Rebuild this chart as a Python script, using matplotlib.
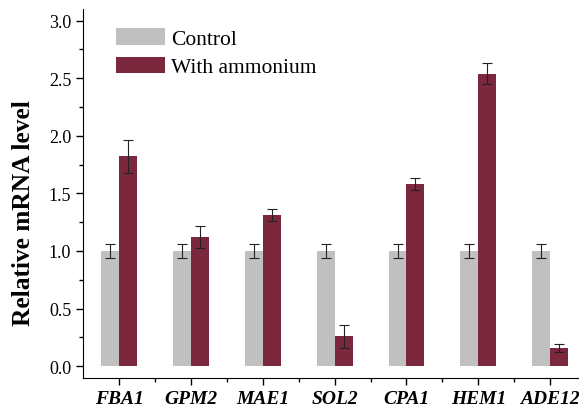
import numpy as np
import matplotlib.pyplot as plt
from matplotlib.ticker import MultipleLocator, FixedLocator

plt.rcParams['font.family'] = ['Liberation Serif', 'DejaVu Serif']

### data
genes = ['FBA1', 'GPM2', 'MAE1', 'SOL2', 'CPA1', 'HEM1', 'ADE12']
control = [1.0, 1.0, 1.0, 1.0, 1.0, 1.0, 1.0]
control_err = [0.06, 0.06, 0.06, 0.06, 0.06, 0.06, 0.06]
ammonium = [1.82, 1.12, 1.31, 0.26, 1.58, 2.54, 0.16]
ammonium_err = [0.14, 0.095, 0.05, 0.10, 0.055, 0.09, 0.035]

### plot
fig = plt.figure(figsize=(5.79, 4.10), dpi=100)
ax = fig.add_axes([0.1434, 0.0763, 0.8566, 0.8993])

x = np.arange(len(genes))
w = 0.25
ekw = dict(ecolor='#222222', elinewidth=0.8, capthick=0.8)
ax.bar(x - w/2, control, w, yerr=control_err, capsize=3.5, color='#c0c0c0',
       label='Control', error_kw=ekw)
ax.bar(x + w/2, ammonium, w, yerr=ammonium_err, capsize=3.5, color='#7b273e',
       label='With ammonium', error_kw=ekw)

ax.set_xlim(-0.5, 6.4)
ax.set_ylim(-0.1, 3.1)
ax.spines['top'].set_visible(False)
ax.spines['right'].set_visible(False)

ax.set_yticks(np.arange(0, 3.01, 0.5))
ax.set_yticklabels(['%.1f' % v for v in np.arange(0, 3.01, 0.5)], fontsize=13)
ax.yaxis.set_minor_locator(MultipleLocator(0.25))
ax.set_xticks(x)
ax.set_xticklabels(genes, fontsize=14, fontweight='bold', fontstyle='italic')
ax.xaxis.set_minor_locator(FixedLocator(x[:-1] + 0.5))
ax.tick_params(which='major', length=5, width=1)
ax.tick_params(which='minor', length=3, width=1)

ax.set_ylabel('Relative mRNA level', fontsize=18.3, fontweight='bold')
ax.yaxis.set_label_coords(-0.097, 0.449)

ax.legend(loc='upper left', bbox_to_anchor=(0.028, 1.0), frameon=False,
          fontsize=15.5, handlelength=2.28, handleheight=0.8, handletextpad=0.25,
          labelspacing=0.35, borderaxespad=0.5)

plt.savefig('out.png')
plt.close()
